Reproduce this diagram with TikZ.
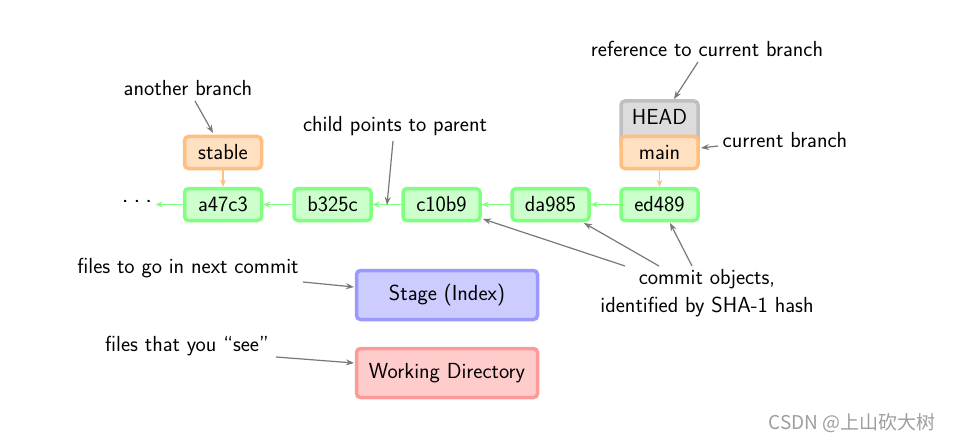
\documentclass[tikz,border=0pt]{standalone}
\usepackage{fontspec}
\newfontfamily\cjk{Noto Sans CJK SC}
\usetikzlibrary{arrows.meta}
\definecolor{gborder}{RGB}{128,255,128}
\definecolor{gfill}{RGB}{204,255,204}
\definecolor{oborder}{RGB}{255,191,128}
\definecolor{ofill}{RGB}{255,224,192}
\definecolor{hborder}{RGB}{191,191,191}
\definecolor{hfill}{RGB}{220,220,220}
\definecolor{bborder}{RGB}{153,153,255}
\definecolor{bfill}{RGB}{204,204,255}
\definecolor{rborder}{RGB}{255,153,153}
\definecolor{rfill}{RGB}{255,204,204}
\definecolor{annot}{RGB}{120,120,120}
\tikzset{
  base/.style={rounded corners=4pt, line width=3.5pt, inner sep=0pt, font=\fontsize{21.8}{26}\sffamily},
  commit/.style={base, draw=gborder, fill=gfill, minimum width=77pt, minimum height=32pt},
  branch/.style={base, draw=oborder, fill=ofill, minimum width=77pt, minimum height=32pt},
  headbox/.style={base, draw=hborder, fill=hfill, minimum width=77pt, minimum height=48pt, text depth=16pt},
  areabox/.style={base, minimum width=181pt, minimum height=49pt},
  lbl/.style={font=\fontsize{21.8}{28}\sffamily, inner sep=0pt, align=center},
  garrow/.style={draw=gborder, line width=1.6pt, -{Stealth[length=7pt,width=6pt]}},
  oarrow/.style={draw=oborder, line width=1.6pt, -{Stealth[length=7pt,width=6pt]}},
  aarrow/.style={draw=annot, line width=1.2pt, -{Stealth[length=8pt,width=6pt]}},
}
\begin{document}
\begin{tikzpicture}[x=1pt,y=-1pt]
\useasboundingbox (0,0) rectangle (953,441);
% commits
\node[commit] (a) at (223,204.5) {a47c3};
\node[commit] (b) at (332.5,204.5) {b325c};
\node[commit] (c) at (441.5,204.5) {c10b9};
\node[commit] (d) at (550.5,204.5) {da985};
\node[commit] (e) at (659.5,204.5) {ed489};
\node[lbl, font=\fontsize{26}{28}\sffamily] (dots) at (137,201) {.\hspace{5pt}.\hspace{5pt}.};
% branches
\node[headbox] (head) at (659.5,125) {HEAD};
\node[branch] (main) at (659.5,152.5) {main};
\node[branch] (stable) at (223,152.5) {stable};
% areas
\node[areabox, draw=bborder, fill=bfill] (stage) at (447,295) {Stage (Index)};
\node[areabox, draw=rborder, fill=rfill] (wd) at (447,373) {Working Directory};
% parent arrows
\draw[garrow] (b) -- (a);
\draw[garrow] (c) -- (b);
\draw[garrow] (d) -- (c);
\draw[garrow] (e) -- (d);
\draw[garrow] (a.west) -- ++(-27,0) coordinate (dotsend);
\draw[oarrow] (stable) -- (a);
\draw[oarrow] (main) -- (e);
% annotations
\node[lbl] (lanother) at (188,88) {another branch};
\node[lbl] (lchild) at (395,126) {child points to parent};
\node[lbl] (lref) at (707,49) {reference to current branch};
\node[lbl] (lcur) at (785,140) {current branch};
\node[lbl] (lcommit) at (707,293) {commit objects,\\identified by SHA-1 hash};
\node[lbl] (lstage) at (188,268) {files to go in next commit};
\node[lbl] (lwd) at (187,346) {files that you ``see''};
\coordinate (p1) at (195,101);
\coordinate (p1e) at (213,133);
\coordinate (p2) at (393,141);
\coordinate (p2e) at (387,205);
\coordinate (p3) at (698,62);
\coordinate (p3e) at (674,99);
\coordinate (p4) at (718,146);
\coordinate (p4e) at (701,148);
\coordinate (p5a) at (625,266);
\coordinate (p5ae) at (483,219);
\coordinate (p5b) at (659,266);
\coordinate (p5be) at (584,223);
\coordinate (p5c) at (692,266);
\coordinate (p5ce) at (670,223);
\coordinate (p6) at (303,282);
\coordinate (p6e) at (354,287);
\coordinate (p7) at (276,357);
\coordinate (p7e) at (354,363);
\draw[aarrow] (p1) -- (p1e);
\draw[aarrow] (p2) -- (p2e);
\draw[aarrow] (p3) -- (p3e);
\draw[aarrow] (p4) -- (p4e);
\draw[aarrow] (p5a) -- (p5ae);
\draw[aarrow] (p5b) -- (p5be);
\draw[aarrow] (p5c) -- (p5ce);
\draw[aarrow] (p6) -- (p6e);
\draw[aarrow] (p7) -- (p7e);
% watermark
\node[font=\fontsize{19}{22}\cjk, text=black!38, inner sep=0pt] (wm) at (852,423) {CSDN @上山砍大树};
\end{tikzpicture}
\end{document}
